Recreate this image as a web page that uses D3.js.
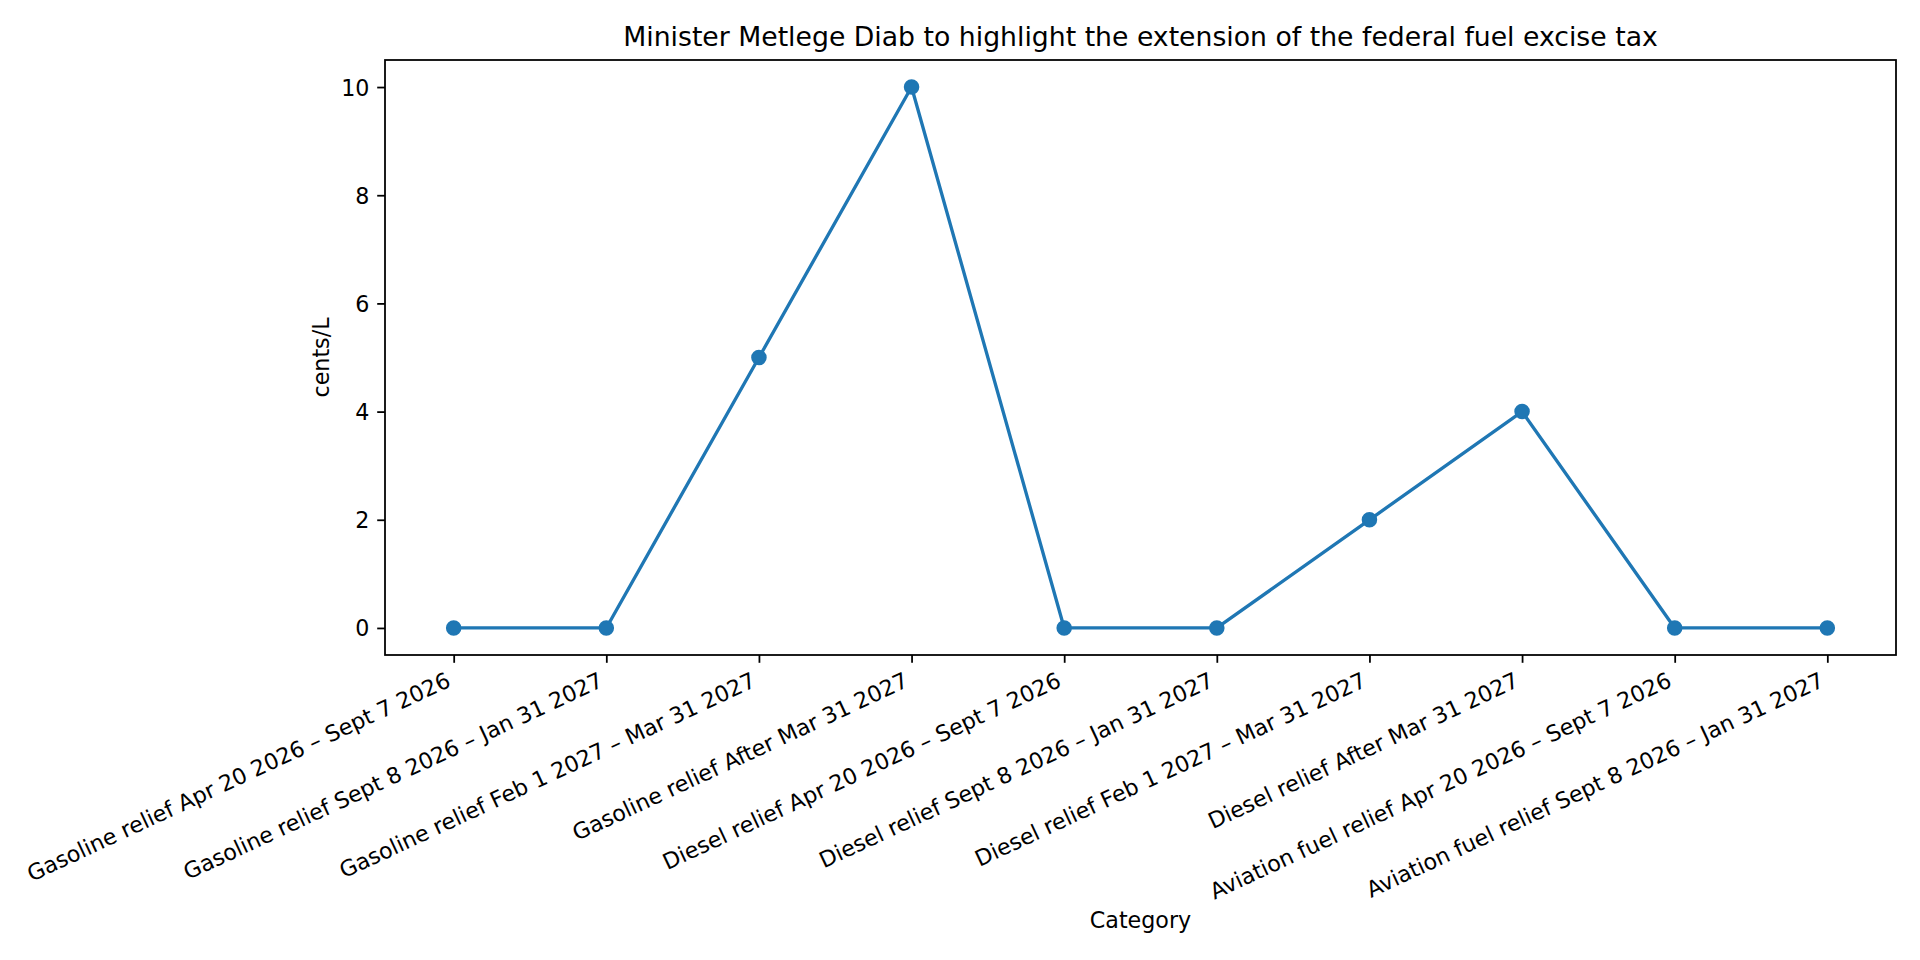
<!DOCTYPE html>
<html>
<head>
<meta charset="utf-8">
<script src="https://cdn.jsdelivr.net/npm/d3@7"></script>
<style>
  html, body { margin: 0; padding: 0; background: #fff; }
  svg { display: block; font-family: "DejaVu Sans", sans-serif; }
</style>
</head>
<body>
<svg id="chart" width="1920" height="960"></svg>
<script>
const categories = [
  "Gasoline relief Apr 20 2026 \u2013 Sept 7 2026",
  "Gasoline relief Sept 8 2026 \u2013 Jan 31 2027",
  "Gasoline relief Feb 1 2027 \u2013 Mar 31 2027",
  "Gasoline relief After Mar 31 2027",
  "Diesel relief Apr 20 2026 \u2013 Sept 7 2026",
  "Diesel relief Sept 8 2026 \u2013 Jan 31 2027",
  "Diesel relief Feb 1 2027 \u2013 Mar 31 2027",
  "Diesel relief After Mar 31 2027",
  "Aviation fuel relief Apr 20 2026 \u2013 Sept 7 2026",
  "Aviation fuel relief Sept 8 2026 \u2013 Jan 31 2027"
];
const values = [0, 0, 5, 10, 0, 0, 2, 4, 0, 0];
const yTicks = [0, 2, 4, 6, 8, 10];
const titleText = "Minister Metlege Diab to highlight the extension of the federal fuel excise tax";
const xLabelText = "Category";
const yLabelText = "cents/L";

const svg = d3.select("#chart");
const L = 385, R = 1896, T = 60, B = 655;
const tickFont = 22.2, titleFont = 26.7;
const tickLen = 7.8, tickPad = 7.8, lw = 1.78;
const color = "#1f77b4";

const x = d3.scalePoint().domain(categories).range([L, R]).padding(0.45);
const y = d3.scaleLinear().domain([-0.5, 10.5]).range([B, T]);

// line
const line = d3.line().x((d, i) => x(categories[i])).y(d => y(d));
svg.append("path").datum(values)
  .attr("d", line).attr("fill", "none")
  .attr("stroke", color).attr("stroke-width", 3.33)
  .attr("stroke-linejoin", "round").attr("stroke-linecap", "square");

svg.append("g").selectAll("circle").data(values).join("circle")
  .attr("cx", (d, i) => x(categories[i])).attr("cy", d => y(d))
  .attr("r", 6.67).attr("fill", color)
  .attr("stroke", color).attr("stroke-width", 2.2);

// axes
const xAxis = svg.append("g").attr("transform", `translate(0,${B})`)
  .call(d3.axisBottom(x).tickSize(tickLen).tickSizeOuter(0).tickPadding(tickPad));
xAxis.select(".domain").remove();
xAxis.selectAll(".tick line").attr("stroke", "#000").attr("stroke-width", lw);
const sin = Math.sin(25 * Math.PI / 180), cos = Math.cos(25 * Math.PI / 180);
const asc = 0.76 * tickFont, desc = 0.24 * tickFont;
xAxis.selectAll(".tick text")
  .attr("font-size", tickFont).attr("font-family", "DejaVu Sans").attr("fill", "#000")
  .attr("text-anchor", "end").attr("dy", null)
  .attr("y", null).attr("x", null)
  .attr("transform", `translate(${-desc * sin},${tickLen + tickPad + asc * cos}) rotate(-25)`);

const yAxis = svg.append("g").attr("transform", `translate(${L},0)`)
  .call(d3.axisLeft(y).tickValues(yTicks).tickSize(tickLen).tickSizeOuter(0).tickPadding(tickPad).tickFormat(d3.format("d")));
yAxis.select(".domain").remove();
yAxis.selectAll(".tick line").attr("stroke", "#000").attr("stroke-width", lw);
yAxis.selectAll(".tick text")
  .attr("font-size", tickFont).attr("font-family", "DejaVu Sans").attr("fill", "#000")
  .attr("dy", "0.36em");

// frame
svg.append("rect").attr("x", L).attr("y", T).attr("width", R - L).attr("height", B - T)
  .attr("fill", "none").attr("stroke", "#000").attr("stroke-width", lw);

// title & labels
svg.append("text").attr("x", (L + R) / 2).attr("y", 46)
  .attr("text-anchor", "middle").attr("font-size", titleFont).attr("fill", "#000")
  .text(titleText);
svg.append("text").attr("x", (L + R) / 2).attr("y", 928)
  .attr("text-anchor", "middle").attr("font-size", tickFont).attr("fill", "#000")
  .text(xLabelText);
svg.append("text").attr("transform", `translate(329,${(T + B) / 2}) rotate(-90)`)
  .attr("text-anchor", "middle").attr("font-size", tickFont).attr("fill", "#000")
  .text(yLabelText);
</script>
</body>
</html>
